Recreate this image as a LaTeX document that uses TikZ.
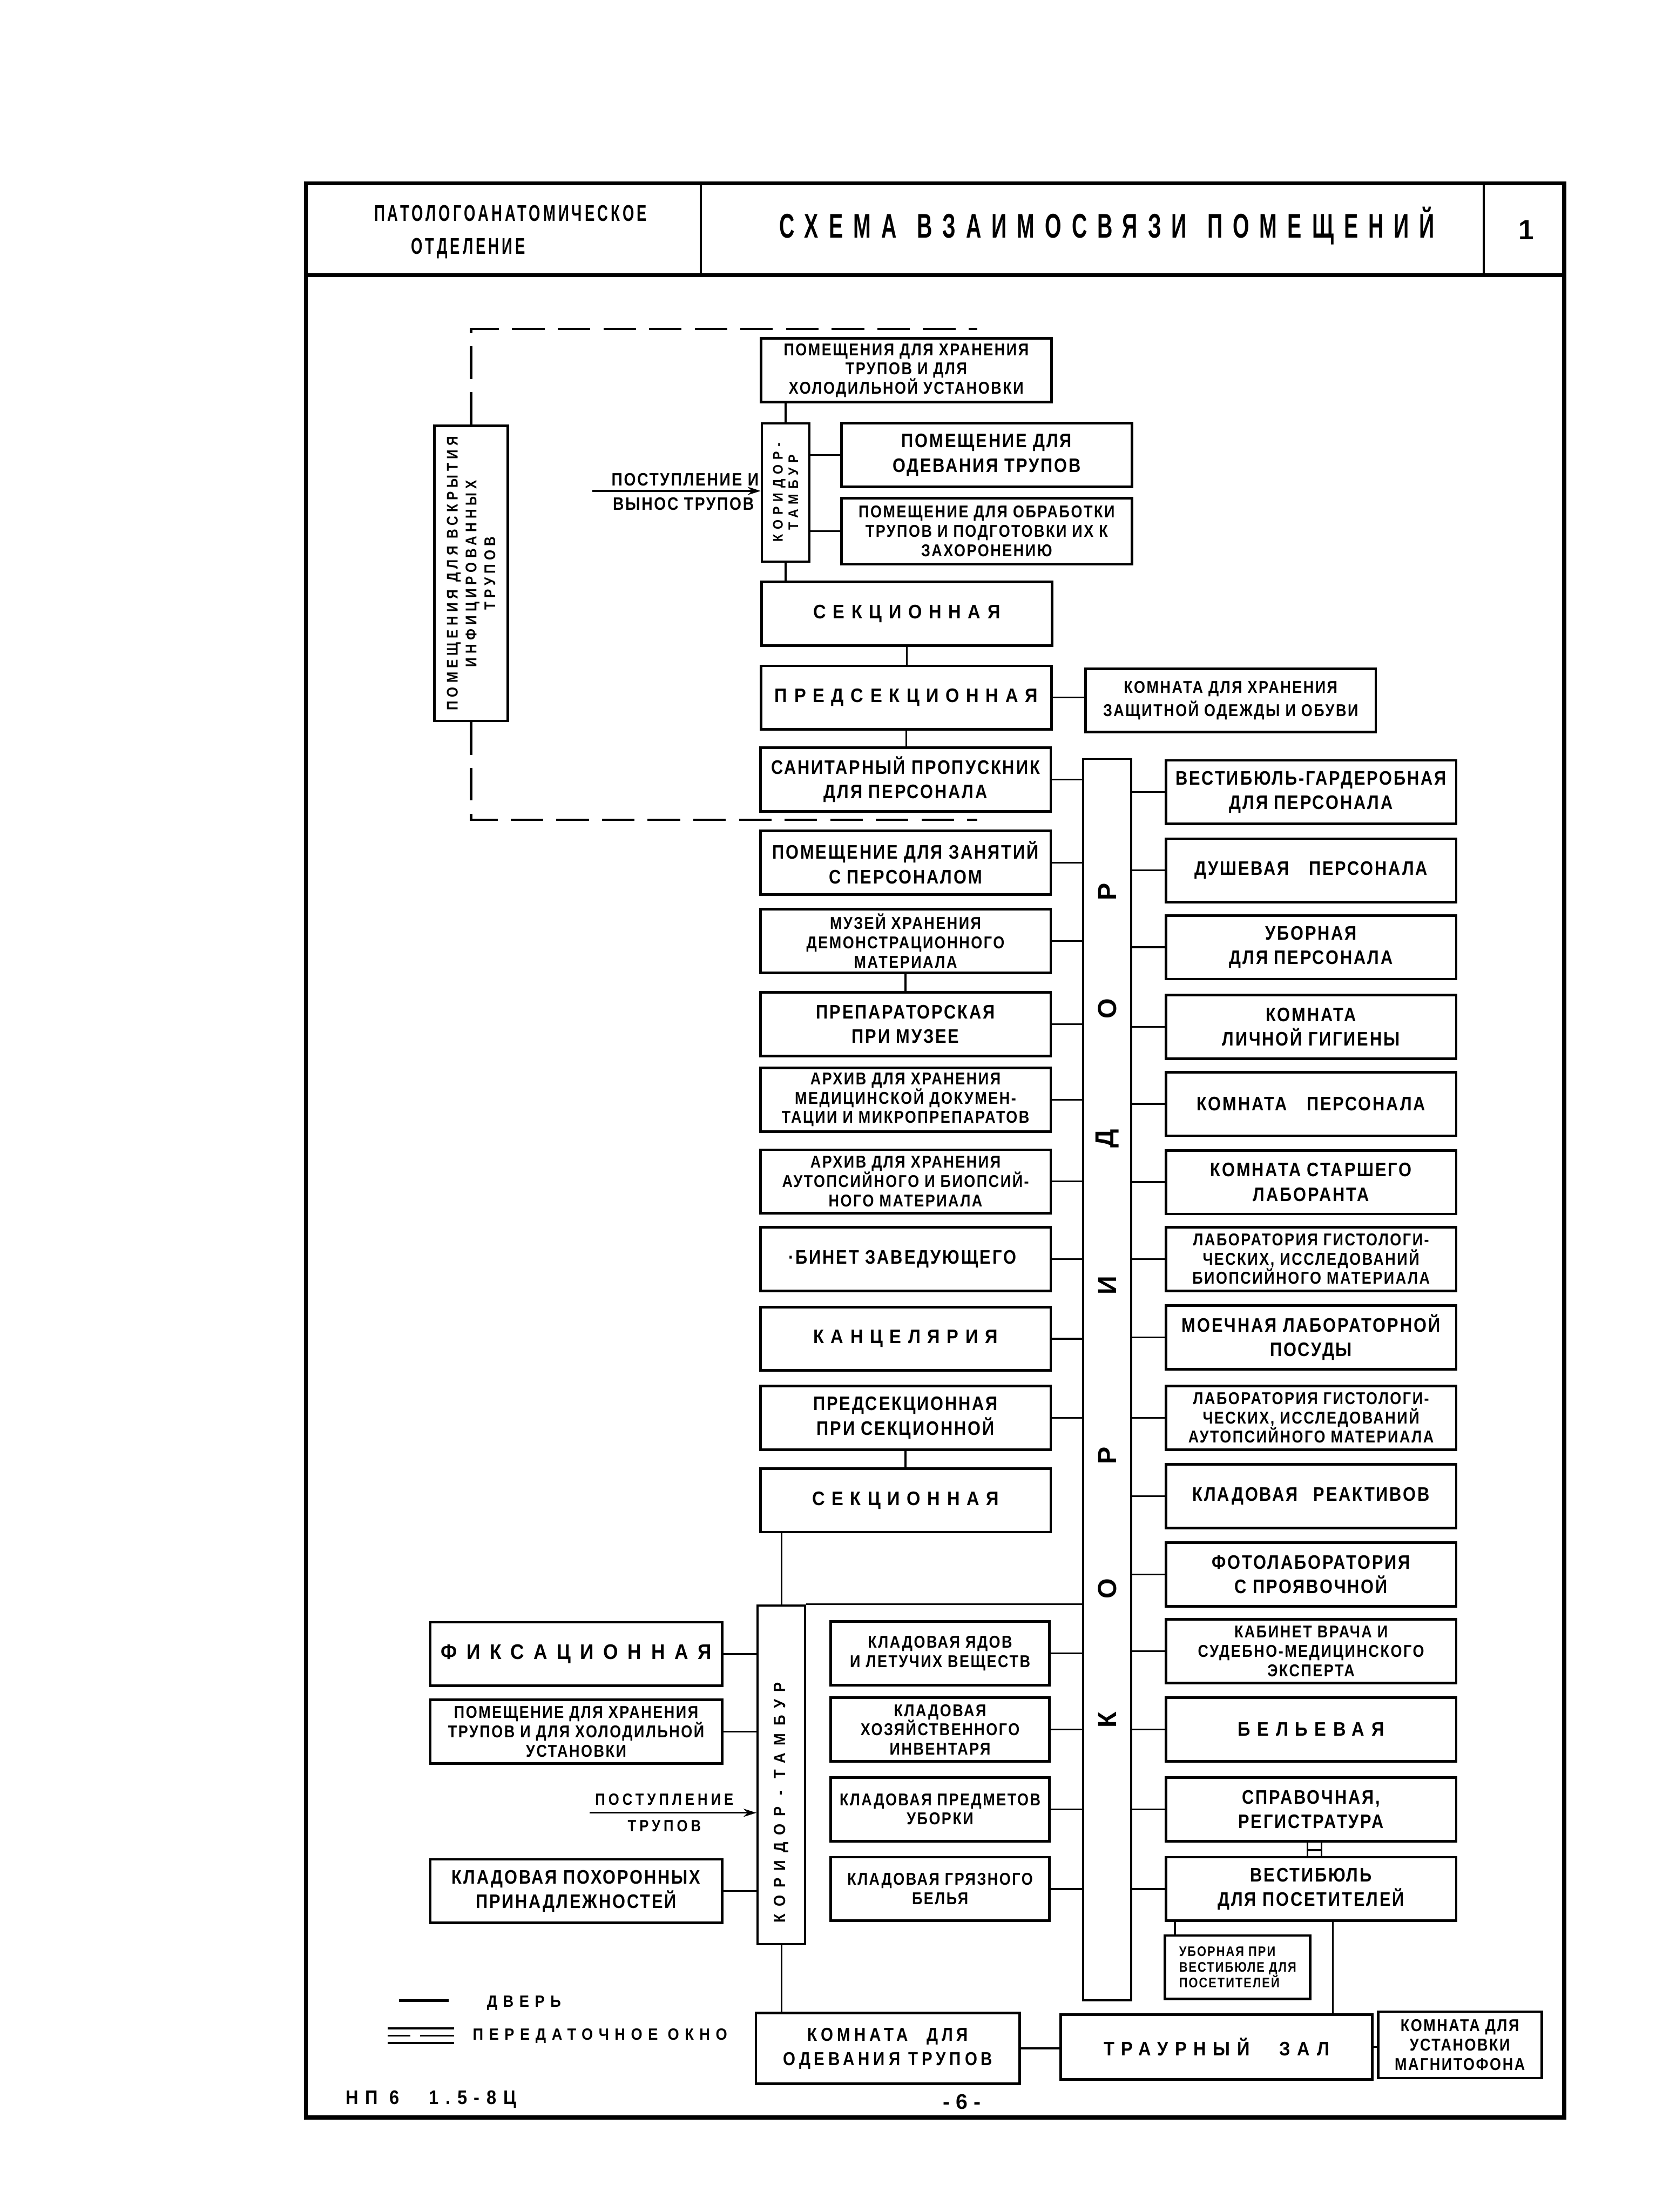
\documentclass[tikz,border=0pt]{standalone}
\usepackage{fontspec}
\setmainfont{Liberation Sans}
\newfontfamily\boxface[FakeStretch=0.85,LetterSpace=8]{Liberation Sans}
\newfontfamily\spacedface[FakeStretch=0.9,LetterSpace=35]{Liberation Sans}
\newfontfamily\headface[FakeStretch=0.65,LetterSpace=12]{Liberation Sans}
\newfontfamily\titleface[FakeStretch=0.62,LetterSpace=30]{Liberation Sans}
\newcommand{\roomFont}{\boxface\bfseries\fontsize{12}{15}\selectfont}
\newcommand{\roomFontS}{\boxface\bfseries\fontsize{10.5}{11.8}\selectfont}
\newcommand{\roomFontW}{\spacedface\bfseries\fontsize{12}{15}\selectfont}
\usepackage{tikz}
\usetikzlibrary{
    arrows.meta,
    positioning,
    calc
}

\begin{document}
\begin{tikzpicture}[
    x=0.03041cm, y=-0.03041cm,
    roomBox/.style={
        rectangle, draw=black, line width=1.6pt,
        minimum width=6.26cm, minimum height=1.37cm,
        font=\roomFont, align=center, inner sep=1pt
    },
    roomBoxThree/.style={
        roomBox, font=\roomFontS
    },
    roomBoxWide/.style={
        roomBox, font=\roomFontW
    },
    narrowRoom/.style={
        roomBox, minimum width=4.71cm, font=\roomFontS
    },
    passBox/.style={
        rectangle, draw=black, line width=1.3pt,
        minimum width=1.03cm, inner sep=0pt
    },
    vertLabel/.style={
        rotate=90, align=center, inner sep=0pt,
        font=\spacedface\bfseries\fontsize{8}{9.5}\selectfont
    },
    corrLetter/.style={
        rotate=90, inner sep=0pt,
        font=\bfseries\fontsize{16}{16}\selectfont
    },
    linkLine/.style={
        line width=1.1pt, draw=black
    },
    dashLink/.style={
        line width=1.4pt, draw=black, dash pattern=on 20pt off 8pt
    },
    inArrow/.style={
        -{Stealth[length=8pt, width=5pt]}, line width=1.1pt, draw=black
    },
    flowLabel/.style={
        font=\boxface\bfseries\fontsize{11}{12}\selectfont, inner sep=1pt
    },
    legendText/.style={
        font=\spacedface\bfseries\fontsize{10}{11}\selectfont, inner sep=0pt, anchor=west
    },
    headText/.style={
        font=\headface\bfseries\fontsize{14}{15}\selectfont, inner sep=0pt
    },
    frameLine/.style={
        line width=2.4pt, draw=black
    }
]

    \useasboundingbox (0,0) rectangle (1174,1568);

    % Sheet frame and title block
    \draw[frameLine] (217,130) rectangle (1109,1501);
    \draw[frameLine] (217,195) -- (1109,195);
    \draw[line width=1.4pt] (497,130) -- (497,195);
    \draw[line width=1.4pt] (1052,130) -- (1052,195);

    \node[headText] (deptName) at (362,151) {ПАТОЛОГОАНАТОМИЧЕСКОЕ};
    \node[headText] (deptName2) at (332,176) {ОТДЕЛЕНИЕ};
    \node[font=\titleface\bfseries\fontsize{21}{22}\selectfont, inner sep=0pt] (sheetTitle) at (785,160)
        {СХЕМА\hspace{0.6em}ВЗАИМОСВЯЗИ\hspace{0.6em}ПОМЕЩЕНИЙ};
    \node[font=\bfseries\fontsize{17}{17}\selectfont, inner sep=0pt] (sheetNo) at (1082,163) {1};

    % Upper group: autopsy block
    \node[roomBoxThree] (coldTop) at (642.5,262.5) {
        ПОМЕЩЕНИЯ ДЛЯ ХРАНЕНИЯ\\ТРУПОВ И ДЛЯ\\ХОЛОДИЛЬНОЙ УСТАНОВКИ
    };
    \node[passBox, minimum height=2.98cm] (tambTop) at (557,349) {};
    \node[vertLabel, font=\spacedface\bfseries\fontsize{8.5}{9.5}\selectfont] (tambTopText) at (tambTop) {КОРИДОР-\\ТАМБУР};
    \node[roomBox] (dressTop) at (699.5,322.5) {
        ПОМЕЩЕНИЕ ДЛЯ\\ОДЕВАНИЯ ТРУПОВ
    };
    \node[roomBoxThree, minimum height=1.43cm] (prepBurial) at (699.5,376.5) {
        ПОМЕЩЕНИЕ ДЛЯ ОБРАБОТКИ\\ТРУПОВ И ПОДГОТОВКИ ИХ К\\ЗАХОРОНЕНИЮ
    };
    \node[roomBoxWide] (sectTop) at (643,435) {СЕКЦИОННАЯ};
    \node[roomBoxWide] (presectTop) at (642.5,494.5) {ПРЕДСЕКЦИОННАЯ};
    \node[roomBox, font=\boxface\bfseries\fontsize{10.5}{14}\selectfont] (protClothes) at (872.5,496.5) {
        КОМНАТА ДЛЯ ХРАНЕНИЯ\\ЗАЩИТНОЙ ОДЕЖДЫ И ОБУВИ
    };
    \node[roomBox] (sanPass) at (642,552.5) {
        САНИТАРНЫЙ ПРОПУСКНИК\\ДЛЯ ПЕРСОНАЛА
    };

    % Infected autopsy room
    \node[passBox, minimum width=1.58cm, minimum height=6.36cm, line width=1.6pt] (infectRoom) at (334,406.5) {};
    \node[vertLabel, font=\boxface\bfseries\addfontfeature{LetterSpace=25}\fontsize{9.5}{11.5}\selectfont] (infectText) at (infectRoom) {
        ПОМЕЩЕНИЯ ДЛЯ ВСКРЫТИЯ\\ИНФИЦИРОВАННЫХ\\ТРУПОВ
    };

    % Main corridor
    \node[passBox, minimum height=26.76cm] (corr) at (785,978) {};
    \node[corrLetter] (corrL1) at (785,1219) {К};
    \node[corrLetter] (corrL2) at (785,1126) {О};
    \node[corrLetter] (corrL3) at (785,1032) {Р};
    \node[corrLetter] (corrL4) at (785,911) {И};
    \node[corrLetter] (corrL5) at (785,807) {Д};
    \node[corrLetter] (corrL6) at (785,715) {О};
    \node[corrLetter] (corrL7) at (785,632) {Р};

    % Left of corridor
    \node[roomBox] (studyRoom) at (642,611.5) {
        ПОМЕЩЕНИЕ ДЛЯ ЗАНЯТИЙ\\С ПЕРСОНАЛОМ
    };
    \node[roomBoxThree] (museum) at (642,667) {
        МУЗЕЙ ХРАНЕНИЯ\\ДЕМОНСТРАЦИОННОГО\\МАТЕРИАЛА
    };
    \node[roomBox] (prepMuseum) at (642,726) {
        ПРЕПАРАТОРСКАЯ\\ПРИ МУЗЕЕ
    };
    \node[roomBoxThree] (archDocs) at (642,779.5) {
        АРХИВ ДЛЯ ХРАНЕНИЯ\\МЕДИЦИНСКОЙ ДОКУМЕН-\\ТАЦИИ И МИКРОПРЕПАРАТОВ
    };
    \node[roomBoxThree] (archBio) at (642,837.5) {
        АРХИВ ДЛЯ ХРАНЕНИЯ\\АУТОПСИЙНОГО И БИОПСИЙ-\\НОГО МАТЕРИАЛА
    };
    \node[roomBox] (headOffice) at (642,892.5) {
        ·БИНЕТ ЗАВЕДУЮЩЕГО
    };
    \node[roomBoxWide] (office) at (642,949) {КАНЦЕЛЯРИЯ};
    \node[roomBox] (presectLow) at (642,1005) {
        ПРЕДСЕКЦИОННАЯ\\ПРИ СЕКЦИОННОЙ
    };
    \node[roomBoxWide] (sectLow) at (642,1063.5) {СЕКЦИОННАЯ};

    % Right of corridor
    \node[roomBox] (wardrobe) at (929.5,561.5) {
        ВЕСТИБЮЛЬ-ГАРДЕРОБНАЯ\\ДЛЯ ПЕРСОНАЛА
    };
    \node[roomBox] (shower) at (929.5,617) {ДУШЕВАЯ\hspace{1em}ПЕРСОНАЛА};
    \node[roomBox] (staffWC) at (929.5,671.5) {
        УБОРНАЯ\\ДЛЯ ПЕРСОНАЛА
    };
    \node[roomBox] (hygiene) at (929.5,728) {
        КОМНАТА\\ЛИЧНОЙ ГИГИЕНЫ
    };
    \node[roomBox] (staffRoom) at (929.5,782.5) {КОМНАТА\hspace{1em}ПЕРСОНАЛА};
    \node[roomBox] (seniorLab) at (929.5,838) {
        КОМНАТА СТАРШЕГО\\ЛАБОРАНТА
    };
    \node[roomBoxThree] (labBiop) at (929.5,892.5) {
        ЛАБОРАТОРИЯ ГИСТОЛОГИ-\\ЧЕСКИХ, ИССЛЕДОВАНИЙ\\БИОПСИЙНОГО МАТЕРИАЛА
    };
    \node[roomBox] (washRoom) at (929.5,948) {
        МОЕЧНАЯ ЛАБОРАТОРНОЙ\\ПОСУДЫ
    };
    \node[roomBoxThree] (labAutop) at (929.5,1005) {
        ЛАБОРАТОРИЯ ГИСТОЛОГИ-\\ЧЕСКИХ, ИССЛЕДОВАНИЙ\\АУТОПСИЙНОГО МАТЕРИАЛА
    };
    \node[roomBox] (reagents) at (929.5,1060.5) {КЛАДОВАЯ\hspace{0.8em}РЕАКТИВОВ};
    \node[roomBox] (photoLab) at (929.5,1116) {
        ФОТОЛАБОРАТОРИЯ\\С ПРОЯВОЧНОЙ
    };
    \node[roomBoxThree] (expertRoom) at (929.5,1170.5) {
        КАБИНЕТ ВРАЧА И\\СУДЕБНО-МЕДИЦИНСКОГО\\ЭКСПЕРТА
    };
    \node[roomBoxWide] (linen) at (929.5,1226) {БЕЛЬЕВАЯ};
    \node[roomBox] (infoDesk) at (929.5,1282.5) {
        СПРАВОЧНАЯ,\\РЕГИСТРАТУРА
    };
    \node[roomBox] (visitHall) at (929.5,1339) {
        ВЕСТИБЮЛЬ\\ДЛЯ ПОСЕТИТЕЛЕЙ
    };
    \node[roomBox, minimum width=3.13cm, align=left,
          font=\boxface\bfseries\fontsize{8.5}{9.6}\selectfont] (visitWC) at (877.5,1394.5) {
        УБОРНАЯ ПРИ\\ВЕСТИБЮЛЕ ДЛЯ\\ПОСЕТИТЕЛЕЙ
    };

    % Lower group: funeral block
    \node[passBox, minimum height=7.30cm] (tambLow) at (554,1258) {};
    \node[vertLabel, font=\spacedface\bfseries\addfontfeature{LetterSpace=45}\fontsize{10}{11}\selectfont] (tambLowText) at ([yshift=-0.6cm]tambLow.center) {КОРИДОР - ТАМБУР};
    \node[roomBoxWide, minimum width=6.29cm, font=\spacedface\bfseries\addfontfeature{LetterSpace=45}\fontsize{13}{14}\selectfont] (fixRoom) at (408.5,1172.5) {ФИКСАЦИОННАЯ};
    \node[roomBoxThree, minimum width=6.29cm] (coldLow) at (408.5,1227.5) {
        ПОМЕЩЕНИЕ ДЛЯ ХРАНЕНИЯ\\ТРУПОВ И ДЛЯ ХОЛОДИЛЬНОЙ\\УСТАНОВКИ
    };
    \node[roomBox, minimum width=6.29cm] (funeralStore) at (408.5,1340.5) {
        КЛАДОВАЯ ПОХОРОННЫХ\\ПРИНАДЛЕЖНОСТЕЙ
    };
    \node[narrowRoom] (poisonStore) at (666.5,1172) {
        КЛАДОВАЯ ЯДОВ\\И ЛЕТУЧИХ ВЕЩЕСТВ
    };
    \node[narrowRoom] (toolStore) at (666.5,1226) {
        КЛАДОВАЯ\\ХОЗЯЙСТВЕННОГО\\ИНВЕНТАРЯ
    };
    \node[narrowRoom] (cleanStore) at (666.5,1282.5) {
        КЛАДОВАЯ ПРЕДМЕТОВ\\УБОРКИ
    };
    \node[narrowRoom] (dirtyLinen) at (666.5,1339) {
        КЛАДОВАЯ ГРЯЗНОГО\\БЕЛЬЯ
    };
    \node[roomBox, minimum width=5.69cm, minimum height=1.52cm,
          font=\boxface\bfseries\addfontfeature{LetterSpace=20}\fontsize{11.5}{15}\selectfont] (dressLow) at (629.5,1452) {
        КОМНАТА\hspace{1em}ДЛЯ\\ОДЕВАНИЯ ТРУПОВ
    };
    \node[roomBoxWide, minimum width=6.72cm, minimum height=1.40cm] (mourningHall) at (862.5,1451) {ТРАУРНЫЙ\hspace{1.5em}ЗАЛ};
    \node[roomBox, minimum width=3.53cm, minimum height=1.43cm,
          font=\boxface\bfseries\fontsize{10.5}{11.8}\selectfont] (recorderRoom) at (1035,1449.5) {
        КОМНАТА ДЛЯ\\УСТАНОВКИ\\МАГНИТОФОНА
    };

    % Arrival of bodies
    \coordinate (inTopStart) at (420,348);
    \draw[inArrow] (inTopStart) -- (inTopStart -| tambTop.west);
    \node[flowLabel, anchor=south east] (inTopLbl) at ([yshift=2pt]inTopStart -| tambTop.west) {ПОСТУПЛЕНИЕ И};
    \node[flowLabel, anchor=north east] (inTopLbl2) at ([xshift=-3pt, yshift=-3pt]inTopStart -| tambTop.west) {ВЫНОС ТРУПОВ};

    \coordinate (inLowStart) at (418,1285);
    \draw[inArrow] (inLowStart) -- (inLowStart -| tambLow.west);
    \node[flowLabel, font=\boxface\bfseries\addfontfeature{LetterSpace=20}\fontsize{10}{11}\selectfont, anchor=south] (inLowLbl) at (471,1281) {ПОСТУПЛЕНИЕ};
    \node[flowLabel, font=\boxface\bfseries\addfontfeature{LetterSpace=20}\fontsize{10}{11}\selectfont, anchor=north] (inLowLbl2) at (471,1289) {ТРУПОВ};

    % Connectors: upper group
    \draw[linkLine] (coldTop.south -| tambTop.north) -- (tambTop.north);
    \draw[linkLine] (tambTop.east |- dressTop.west) -- (dressTop.west);
    \draw[linkLine] (tambTop.east |- prepBurial.west) -- (prepBurial.west);
    \draw[linkLine] (tambTop.south) -- (tambTop.south |- sectTop.north);
    \draw[linkLine] (sectTop.south) -- (sectTop.south |- presectTop.north);
    \draw[linkLine] (presectTop.east) -- (presectTop.east -| protClothes.west);
    \draw[linkLine] (presectTop.south) -- (presectTop.south |- sanPass.north);
    \draw[linkLine] (sanPass.east) -- (sanPass.east -| corr.west);

    % Dashed link of the infected block
    \coordinate (dashTopEnd) at (693,233);
    \coordinate (dashBotEnd) at (693,581);
    \draw[dashLink] (infectRoom.north) -- (infectRoom.north |- dashTopEnd) -- (dashTopEnd);
    \draw[dashLink] (infectRoom.south) -- (infectRoom.south |- dashBotEnd) -- (dashBotEnd);

    % Connectors: left of corridor
    \draw[linkLine] (studyRoom.east) -- (studyRoom.east -| corr.west);
    \draw[linkLine] (museum.east) -- (museum.east -| corr.west);
    \draw[linkLine] (museum.south) -- (museum.south |- prepMuseum.north);
    \draw[linkLine] (prepMuseum.east) -- (prepMuseum.east -| corr.west);
    \draw[linkLine] (archDocs.east) -- (archDocs.east -| corr.west);
    \draw[linkLine] (archBio.east) -- (archBio.east -| corr.west);
    \draw[linkLine] (headOffice.east) -- (headOffice.east -| corr.west);
    \draw[linkLine] (office.east) -- (office.east -| corr.west);
    \draw[linkLine] (presectLow.east) -- (presectLow.east -| corr.west);
    \draw[linkLine] (presectLow.south) -- (presectLow.south |- sectLow.north);
    \draw[linkLine] (tambLow.north) -- (tambLow.north |- sectLow.south);
    \draw[linkLine] (tambLow.north east) -- (tambLow.north east -| corr.west);

    % Connectors: right of corridor
    \draw[linkLine] (corr.east |- wardrobe.west) -- (wardrobe.west);
    \draw[linkLine] (corr.east |- shower.west) -- (shower.west);
    \draw[linkLine] (corr.east |- staffWC.west) -- (staffWC.west);
    \draw[linkLine] (corr.east |- hygiene.west) -- (hygiene.west);
    \draw[linkLine] (corr.east |- staffRoom.west) -- (staffRoom.west);
    \draw[linkLine] (corr.east |- seniorLab.west) -- (seniorLab.west);
    \draw[linkLine] (corr.east |- labBiop.west) -- (labBiop.west);
    \draw[linkLine] (corr.east |- washRoom.west) -- (washRoom.west);
    \draw[linkLine] (corr.east |- labAutop.west) -- (labAutop.west);
    \draw[linkLine] (corr.east |- reagents.west) -- (reagents.west);
    \draw[linkLine] (corr.east |- photoLab.west) -- (photoLab.west);
    \draw[linkLine] (corr.east |- expertRoom.west) -- (expertRoom.west);
    \draw[linkLine] (corr.east |- linen.west) -- (linen.west);
    \draw[linkLine] (corr.east |- infoDesk.west) -- (infoDesk.west);
    \draw[linkLine] (corr.east |- visitHall.west) -- (visitHall.west);

    % Pass-through window between desk and vestibule
    \draw[linkLine] ($(infoDesk.south)+(-2.5,0)$) -- ($(visitHall.north)+(-2.5,0)$);
    \draw[linkLine] ($(infoDesk.south)+(7.5,0)$) -- ($(visitHall.north)+(7.5,0)$);
    \draw[linkLine] ($(infoDesk.south)+(-2.5,5.5)$) -- ($(infoDesk.south)+(7.5,5.5)$);

    \draw[linkLine] ($(visitHall.south)+(-96.5,0)$) -- ($(visitWC.north)+(-44.5,0)$);
    \draw[linkLine] ($(visitHall.south)+(15.5,0)$) -- ($(mourningHall.north)+(82.5,0)$);

    % Connectors: lower group
    \draw[linkLine] (fixRoom.east) -- (fixRoom.east -| tambLow.west);
    \draw[linkLine] (coldLow.east) -- (coldLow.east -| tambLow.west);
    \draw[linkLine] (funeralStore.east) -- (funeralStore.east -| tambLow.west);
    \draw[linkLine] (poisonStore.east) -- (poisonStore.east -| corr.west);
    \draw[linkLine] (toolStore.east) -- (toolStore.east -| corr.west);
    \draw[linkLine] (cleanStore.east) -- (cleanStore.east -| corr.west);
    \draw[linkLine] (dirtyLinen.east) -- (dirtyLinen.east -| corr.west);
    \draw[linkLine] (tambLow.south) -- (tambLow.south |- dressLow.north);
    \draw[linkLine] (dressLow.east) -- (dressLow.east -| mourningHall.west);
    \draw[linkLine] (mourningHall.east) -- (mourningHall.east -| recorderRoom.west);

    % Legend
    \draw[line width=1.6pt] (283,1418) -- (318,1418);
    \node[legendText] (doorLbl) at (345,1420) {ДВЕРЬ};
    \draw[line width=1.3pt] (275,1438) -- (322,1438);
    \draw[line width=1.3pt] (275,1443) -- (291,1443);
    \draw[line width=1.3pt] (298,1443) -- (322,1443);
    \draw[line width=1.3pt] (275,1448) -- (322,1448);
    \node[legendText] (windowLbl) at (335,1443) {ПЕРЕДАТОЧНОЕ ОКНО};

    % Footer
    \node[legendText, font=\spacedface\bfseries\fontsize{12}{13}\selectfont] (docCode) at (245,1488) {НП 6\hspace{1.5em}1.5-8Ц};
    \node[font=\bfseries\fontsize{13}{13}\selectfont, inner sep=0pt] (pageNo) at (682,1490) {- 6 -};

\end{tikzpicture}
\end{document}
